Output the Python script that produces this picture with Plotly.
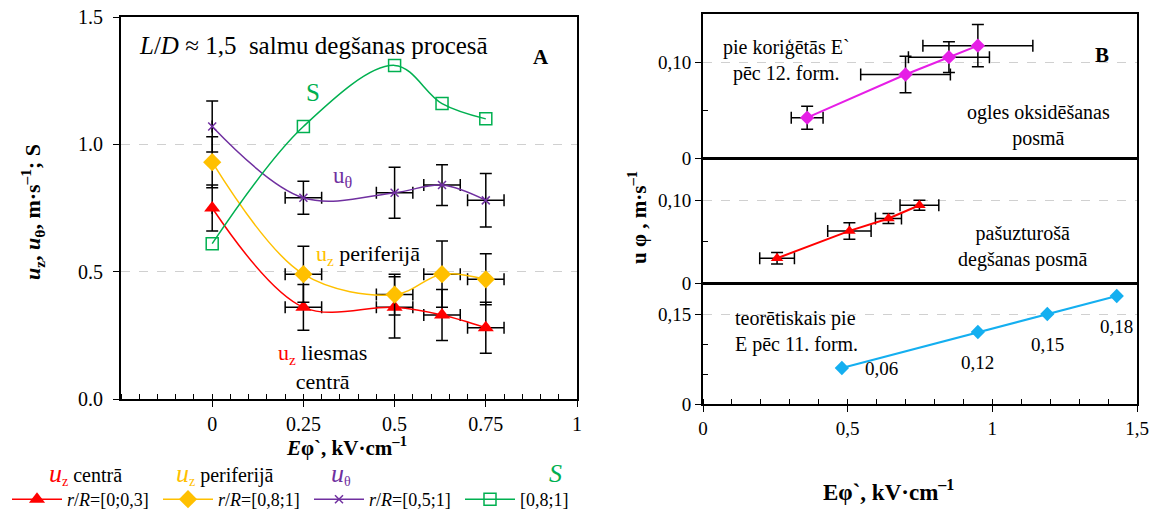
import plotly.graph_objects as go

W, H = 1153, 520
SERIF = "Liberation Serif, Times New Roman, Times, serif"

# ---------------- Panel A data ----------------
a_x = [0, 0.25, 0.5, 0.63, 0.75]
a_x_err = [0, 0.05, 0.05, 0.05, 0.05]
uz_center = [0.75, 0.36, 0.36, 0.33, 0.28]
uz_center_err = [0.09, 0.09, 0.12, 0.10, 0.10]
uz_periph = [0.93, 0.49, 0.41, 0.49, 0.47]
uz_periph_err = [0.10, 0.11, 0.08, 0.13, 0.10]
u_theta = [1.07, 0.79, 0.81, 0.84, 0.78]
u_theta_err = [0.10, 0.065, 0.10, 0.08, 0.105]
s_vals = [0.61, 1.07, 1.31, 1.16, 1.10]

a_xtick_vals = [0, 0.25, 0.5, 0.75, 1]
a_xtick_text = ["0", "0.25", "0.5", "0.75", "1"]
a_ytick_vals = [0, 0.5, 1.0, 1.5]
a_ytick_text = ["0.0", "0.5", "1.0", "1.5"]

legend_names = ["<i>r</i>/<i>R</i>=[0;0,3]", "<i>r</i>/<i>R</i>=[0,8;1]",
                "<i>r</i>/<i>R</i>=[0,5;1]", "[0,8;1]"]

# ---------------- Panel B data ----------------
b1_x = [0.36, 0.70, 0.85, 0.95]
b1_y = [0.042, 0.087, 0.105, 0.117]
b1_xerr = [0.055, 0.155, 0.14, 0.19]
b1_yerr = [0.012, 0.019, 0.016, 0.022]

b2_x = [0.256, 0.506, 0.641, 0.748]
b2_y = [0.030, 0.063, 0.078, 0.094]
b2_xerr = [0.06, 0.075, 0.045, 0.067]
b2_yerr = [0.007, 0.010, 0.006, 0.006]

b3_x = [0.48, 0.95, 1.19, 1.43]
b3_y = [0.06, 0.12, 0.15, 0.18]
b3_labels = ["0,06", "0,12", "0,15", "0,18"]

b_xtick_vals = [0, 0.5, 1, 1.5]
b_xtick_text = ["0", "0,5", "1", "1,5"]

RED = "#ff0000"
YEL = "#ffc000"
PUR = "#7030a0"
GRN = "#00b050"
MAG = "#e61ee6"
BLU = "#14aff0"


def px(x):
    return x / W


def py(y):
    return 1 - y / H


def eb(arr):
    return dict(type="data", array=arr, color="black", thickness=1.5, width=6)


fig = go.Figure()

# Panel A traces
fig.add_trace(go.Scatter(
    x=a_x, y=uz_center, name=legend_names[0], mode="lines+markers",
    line=dict(color=RED, width=1.5, shape="spline", smoothing=1),
    marker=dict(symbol="triangle-up", size=14, color=RED),
    error_y=eb(uz_center_err), error_x=eb(a_x_err), xaxis="x", yaxis="y"))
fig.add_trace(go.Scatter(
    x=a_x, y=uz_periph, name=legend_names[1], mode="lines+markers",
    line=dict(color=YEL, width=1.5, shape="spline", smoothing=1),
    marker=dict(symbol="diamond", size=14, color=YEL),
    error_y=eb(uz_periph_err), error_x=eb(a_x_err), xaxis="x", yaxis="y"))
fig.add_trace(go.Scatter(
    x=a_x, y=u_theta, name=legend_names[2], mode="lines+markers",
    line=dict(color=PUR, width=1.5, shape="spline", smoothing=1),
    marker=dict(symbol="x-thin-open", size=8, color=PUR, line=dict(color=PUR, width=1.5)),
    error_y=eb(u_theta_err), error_x=eb(a_x_err), xaxis="x", yaxis="y"))
fig.add_trace(go.Scatter(
    x=a_x, y=s_vals, name=legend_names[3], mode="lines+markers",
    line=dict(color=GRN, width=1.5, shape="spline", smoothing=1),
    marker=dict(symbol="square-open", size=12, color=GRN, line=dict(color=GRN, width=1.5)),
    xaxis="x", yaxis="y"))

# Panel B traces
fig.add_trace(go.Scatter(
    x=b1_x, y=b1_y, mode="lines+markers", showlegend=False,
    line=dict(color=MAG, width=2), marker=dict(symbol="diamond", size=11, color=MAG),
    error_y=eb(b1_yerr), error_x=eb(b1_xerr), xaxis="x3", yaxis="y2"))
fig.add_trace(go.Scatter(
    x=b2_x, y=b2_y, mode="lines+markers", showlegend=False,
    line=dict(color=RED, width=2), marker=dict(symbol="triangle-up", size=11, color=RED),
    error_y=eb(b2_yerr), error_x=eb(b2_xerr), xaxis="x4", yaxis="y3"))
fig.add_trace(go.Scatter(
    x=b3_x, y=b3_y, mode="lines+markers", showlegend=False,
    line=dict(color=BLU, width=2), marker=dict(symbol="diamond", size=11, color=BLU),
    xaxis="x2", yaxis="y4"))

ax_common = dict(showline=True, linecolor="black", linewidth=1.8, mirror=True,
                 zeroline=False, tickcolor="black")

fig.update_layout(
    width=W, height=H, margin=dict(l=0, r=0, t=0, b=0, autoexpand=False),
    paper_bgcolor="white", plot_bgcolor="white",
    font=dict(family=SERIF, color="black", size=18),
    showlegend=True,
    legend=dict(orientation="h", x=px(7), xanchor="left", y=py(518), yanchor="bottom",
                font=dict(family=SERIF, size=18), itemwidth=50,
                entrywidth=86, entrywidthmode="pixels",
                bgcolor="rgba(0,0,0,0)", tracegroupgap=0),
    xaxis=dict(domain=[px(121), px(577)], anchor="y", range=[-0.25, 1],
               tickmode="array", tickvals=a_xtick_vals, ticktext=a_xtick_text,
               ticks="outside", ticklen=6, showgrid=False,
               minor=dict(dtick=0.05, tick0=0, ticks="inside", ticklen=5, tickcolor="black", showgrid=False),
               tickfont=dict(family=SERIF, size=20), **ax_common),
    yaxis=dict(domain=[py(399), py(17)], anchor="x", range=[0, 1.5],
               tickmode="array", tickvals=a_ytick_vals, ticktext=a_ytick_text,
               ticks="outside", ticklen=6, ticklabelstandoff=6, showgrid=True, gridcolor="#d0d0d0",
               griddash="dash", gridwidth=1.2, tickfont=dict(family=SERIF, size=20), **ax_common),
    # Panel B: bottom sub-panel x axis with ticks
    xaxis2=dict(domain=[px(703), px(1137)], anchor="y4", range=[0, 1.5],
                tickmode="array", tickvals=b_xtick_vals, ticktext=b_xtick_text,
                ticks="outside", ticklen=6, showgrid=False,
                minor=dict(dtick=0.1, tick0=0, ticks="inside", ticklen=5, tickcolor="black", showgrid=False),
                tickfont=dict(family=SERIF, size=19), **ax_common),
    xaxis3=dict(domain=[px(703), px(1137)], anchor="y2", range=[0, 1.5], matches="x2",
                showticklabels=False, ticks="", showgrid=False, **ax_common),
    xaxis4=dict(domain=[px(703), px(1137)], anchor="y3", range=[0, 1.5], matches="x2",
                showticklabels=False, ticks="", showgrid=False, **ax_common),
    yaxis2=dict(domain=[py(158), py(14)], anchor="x3", range=[0, 0.15],
                tickmode="array", tickvals=[0, 0.10], ticktext=["0", "0,10"],
                ticks="outside", ticklen=6, showgrid=True, gridcolor="#d0d0d0", griddash="dash",
                minor=dict(tickvals=[0.05], ticks="inside", ticklen=5, tickcolor="black", showgrid=False),
                tickfont=dict(family=SERIF, size=19), **ax_common),
    yaxis3=dict(domain=[py(283), py(159)], anchor="x4", range=[0, 0.15],
                tickmode="array", tickvals=[0, 0.10], ticktext=["0", "0,10"],
                ticks="outside", ticklen=6, showgrid=True, gridcolor="#d0d0d0", griddash="dash",
                minor=dict(tickvals=[0.05], ticks="inside", ticklen=5, tickcolor="black", showgrid=False),
                tickfont=dict(family=SERIF, size=19), **ax_common),
    yaxis4=dict(domain=[py(404), py(284)], anchor="x2", range=[0, 0.2],
                tickmode="array", tickvals=[0, 0.15], ticktext=["0", "0,15"],
                ticks="outside", ticklen=6, showgrid=True, gridcolor="#d0d0d0", griddash="dash",
                minor=dict(tickvals=[0.05, 0.10], ticks="inside", ticklen=5, tickcolor="black", showgrid=False),
                tickfont=dict(family=SERIF, size=19), **ax_common),
)

ann = []


def add(text, x, y, size=17, xanchor="center", yanchor="middle", angle=0, align="center", color="black"):
    ann.append(dict(text=text, x=px(x), y=py(y), xref="paper", yref="paper",
                    xanchor=xanchor, yanchor=yanchor, showarrow=False, textangle=angle,
                    align=align, font=dict(family=SERIF, size=size, color=color)))


# Panel A texts
add("<i>L</i>/<i>D</i> ≈ 1,5\u00a0\u00a0salmu degšanas procesā", 137, 45, size=25, xanchor="left")
add("<b>A</b>", 541, 57, size=21)
add("S", 313, 92, size=25, color=GRN)
add(f"<span style='color:{PUR}'>u<sub>θ</sub></span>", 331, 177, size=23, xanchor="left")
add(f"<span style='color:{YEL}'>u<sub>z</sub></span> periferijā", 314, 255, size=22, xanchor="left")
add(f"<span style='color:{RED}'>u<sub>z</sub></span> liesmas<br>centrā", 322, 367, size=22)
add("<b><i>u</i><sub>z</sub>, <i>u</i><sub>θ</sub>, m·s<sup>–1</sup>; S</b>", 32, 212, size=22, angle=-90)
add("<b><i>E</i>φ`, kV·cm<sup>–1</sup></b>", 346, 446, size=21)

# Legend headers
add(f"<span style='color:{RED};font-size:26px'><i>u</i></span><span style='color:{RED}'><sub>z</sub></span> centrā", 85, 474, size=20)
add(f"<span style='color:{YEL};font-size:26px'><i>u</i></span><span style='color:{YEL}'><sub>z</sub></span> periferijā", 225, 474, size=20)
add(f"<span style='color:{PUR};font-size:26px'><i>u</i></span><span style='color:{PUR}'><sub>θ</sub></span>", 341, 474, size=20)
add(f"<i>S</i>", 555, 473, size=26, color=GRN)

# Panel B texts
add("pie koriģētās E`<br>pēc 12. form.", 786, 60, size=20)
add("<b>B</b>", 1102, 55, size=21)
add("ogles oksidēšanas<br>posmā", 1038, 125, size=20)
add("pašuzturošā<br>degšanas posmā", 1023, 246, size=20)
add("teorētiskais pie<br>E pēc 11. form.", 733, 331, size=20, xanchor="left", align="left")
add("<b>u φ , m·s<sup>–1</sup></b>", 637, 218, size=21, angle=-90)
add("<b>Eφ`, kV·cm<sup>–1</sup></b>", 888, 490, size=23)

for i, (xv, yv, lab) in enumerate(zip(b3_x, b3_y, b3_labels)):
    ann.append(dict(text=lab, x=xv, y=yv, xref="x2", yref="y4", showarrow=False,
                    xshift=(40 if i == 0 else 0), yshift=(0 if i == 0 else -30),
                    font=dict(family=SERIF, size=19, color="black")))

fig.update_layout(annotations=ann)

fig.write_html("out.html")
